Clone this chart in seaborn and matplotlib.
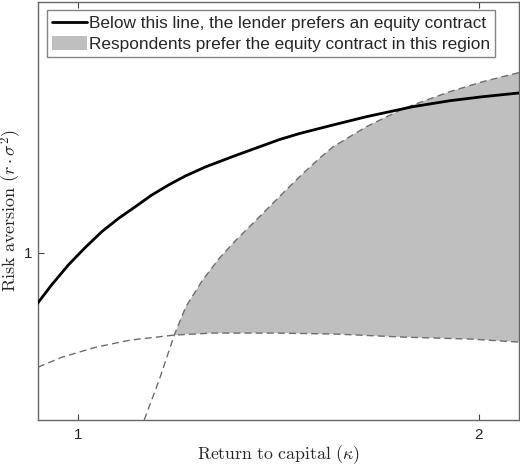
import numpy as np
import pandas as pd
import matplotlib
matplotlib.use("Agg")
import matplotlib.pyplot as plt
import seaborn as sns
from matplotlib.patches import Patch
from matplotlib.lines import Line2D

# fronteira do credor (linha preta)
kappa_lender = [0.899, 0.934, 0.976, 1.018, 1.059, 1.101, 1.143, 1.184, 1.226, 1.268,
                1.318, 1.395, 1.503, 1.553, 1.635, 1.719, 1.835, 1.928, 2.01, 2.1]
risk_lender = [0.849, 0.904, 0.964, 1.016, 1.063, 1.103, 1.138, 1.173, 1.203, 1.230,
               1.257, 1.292, 1.339, 1.357, 1.382, 1.407, 1.437, 1.455, 1.467, 1.478]

# curva tracejada ingreme (limite superior da regiao)
kappa_upper = [1.165, 1.2025, 1.24, 1.269, 1.311, 1.3525, 1.394, 1.436, 1.4775, 1.519,
               1.561, 1.6025, 1.636, 1.719, 1.8025, 1.835, 1.9275, 2.01, 2.1]
risk_upper = [0.5, 0.62, 0.754, 0.839, 0.919, 0.984, 1.038, 1.088, 1.138, 1.188,
              1.237, 1.283, 1.317, 1.377, 1.426, 1.442, 1.482, 1.512, 1.539]

# curva tracejada plana (limite inferior da regiao)
kappa_lower = [0.9, 0.96, 1.045, 1.13, 1.24, 1.335, 1.5, 1.645, 1.81, 1.98, 2.1]
risk_lower = [0.658, 0.688, 0.718, 0.739, 0.754, 0.76, 0.76, 0.757, 0.748, 0.742, 0.733]

x_ticks = [1, 2]
y_ticks = [1]

sns.set_style("ticks")
plt.rcParams['font.family'] = ['Liberation Sans', 'DejaVu Sans']
plt.rcParams['mathtext.fontset'] = 'cm'

fig = plt.figure(figsize=(5.2, 4.67), dpi=100)
ax = fig.add_axes([0.073, 0.1006, 0.925, 0.895])

# regiao sombreada: entre as duas curvas tracejadas a partir do cruzamento
k_cross = 1.24
up = pd.DataFrame({'k': kappa_upper, 'r': risk_upper})
lo = pd.DataFrame({'k': kappa_lower, 'r': risk_lower})
up_r = up[up.k >= k_cross]
lo_r = lo[lo.k >= k_cross]
poly_x = np.r_[up_r.k.values, lo_r.k.values[::-1]]
poly_y = np.r_[up_r.r.values, lo_r.r.values[::-1]]
ax.fill(poly_x, poly_y, color='#bfbfbf', lw=0, zorder=1)

sns.lineplot(data=up, x='k', y='r', sort=False, ax=ax, color='#6e6e6e',
             lw=1, linestyle=(0, (5, 3)), zorder=2)
sns.lineplot(data=lo, x='k', y='r', sort=False, ax=ax, color='#6e6e6e',
             lw=1, linestyle=(0, (5, 3)), zorder=2)
sns.lineplot(x=kappa_lender, y=risk_lender, sort=False, ax=ax, color='black',
             lw=2, zorder=3)

ax.set_xlim(0.9, 2.1)
ax.set_ylim(0.5, 1.75)
ax.set_xticks(x_ticks)
ax.set_xticklabels([str(t) for t in x_ticks])
ax.set_yticks(y_ticks)
ax.set_yticklabels([str(t) for t in y_ticks])
ax.tick_params(direction='in', top=True, right=True, length=4, width=0.8,
               color='#444444', labelsize=11)
ax.tick_params(axis='x', pad=6)
ax.tick_params(axis='y', pad=4)

for s in ax.spines.values():
    s.set_visible(True)
    s.set_color('#666666')
    s.set_linewidth(1)

ax.set_xlabel(r'$\mathrm{Return\ to\ capital}\ (\kappa)$', fontsize=12.8)
ax.set_ylabel(r'$\mathrm{Risk\ aversion}\ (r \cdot \sigma^2)$', fontsize=13)
ax.xaxis.set_label_coords(0.5, -0.056)
ax.yaxis.set_label_coords(-0.028, 0.5)

handles = [Line2D([0], [0], color='black', lw=2),
           Patch(facecolor='#bfbfbf', edgecolor='none')]
labels = ['Below this line, the lender prefers an equity contract',
          'Respondents prefer the equity contract in this region']
leg = ax.legend(handles, labels, loc='upper left', bbox_to_anchor=(0.019, 0.981),
                borderaxespad=0, fontsize=12.4, frameon=True, fancybox=False,
                handlelength=2.0, handleheight=0.9, handletextpad=0.12,
                borderpad=0.3, labelspacing=0.25)
leg.get_frame().set_edgecolor('#666666')
leg.get_frame().set_linewidth(1)

plt.savefig("out.png", dpi=100)
